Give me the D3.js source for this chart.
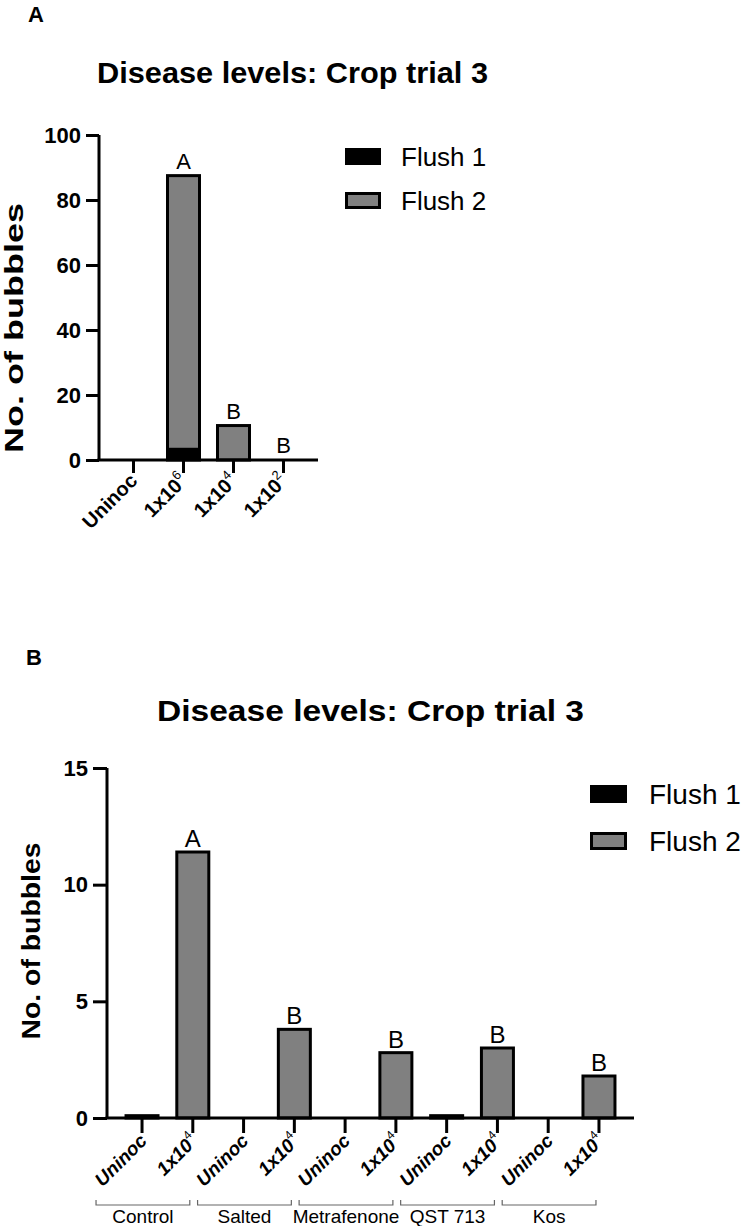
<!DOCTYPE html>
<html>
<head>
<meta charset="utf-8">
<script src="https://cdn.jsdelivr.net/npm/d3@7"></script>
<style>
  html, body { margin: 0; padding: 0; background: #fff; }
  svg { display: block; }
  text { font-family: "Liberation Sans", Arial, sans-serif; fill: #000; }
</style>
</head>
<body>
<svg id="chart" width="744" height="1226"></svg>
<script>
// ---------- Data ----------
const titleText = "Disease levels: Crop trial 3";
const seriesNames = ["Flush 1", "Flush 2"];
const seriesColors = ["#000000", "#808080"];

// Panel A
const catsA = ["Uninoc", "1x10^6", "1x10^4", "1x10^2"];
const flush1A = [0, 3.3, 0, 0];
const flush2A = [0, 84.2, 10.6, 0];
const lettersA = ["", "A", "B", "B"];
const ticksA = [0, 20, 40, 60, 80, 100];

// Panel B
const catsB = ["Uninoc", "1x10^4", "Uninoc", "1x10^4", "Uninoc", "1x10^4", "Uninoc", "1x10^4", "Uninoc", "1x10^4"];
const groupsB = ["Control", "Salted", "Metrafenone", "QST 713", "Kos"];
const flush1B = [0, 0, 0, 0, 0, 0, 0, 0, 0, 0];
const flush2B = [0.1, 11.4, 0, 3.8, 0, 2.8, 0.1, 3.0, 0, 1.8];
const lettersB = ["", "A", "", "B", "", "B", "", "B", "", "B"];
const ticksB = [0, 5, 10, 15];

// ---------- Drawing ----------
const svg = d3.select("#chart");
const FONT = '"Liberation Sans", Arial, sans-serif';

function labelWithSup(textSel, label, opts) {
  const parts = label.split("^");
  textSel.text(null);
  textSel.append("tspan").text(parts[0]);
  if (parts.length > 1) {
    textSel.append("tspan")
      .attr("font-size", opts.supSize)
      .attr("font-weight", "normal")
      .attr("font-style", "normal")
      .attr("dy", -opts.supShift)
      .text(parts[1]);
  }
}

function panel(cfg) {
  const g = svg.append("g");
  const idx = cfg.cats.map((d, i) => i);
  const x = d3.scaleBand().domain(idx).range(cfg.xRange).paddingInner(0).paddingOuter(cfg.padOuter);
  const y = d3.scaleLinear().domain([0, cfg.yMax]).range([cfg.y0, cfg.yTop]);

  // panel letter
  g.append("text").attr("x", cfg.panelLabelPos[0]).attr("y", cfg.panelLabelPos[1])
    .attr("font-size", 22).attr("font-weight", "bold").text(cfg.panelLabel);

  // title
  g.append("text").attr("x", cfg.titlePos[0]).attr("y", cfg.titlePos[1])
    .attr("font-size", cfg.titleSize).attr("font-weight", "bold")
    .attr("textLength", cfg.titleLen).attr("lengthAdjust", "spacingAndGlyphs")
    .text(titleText);

  // y label
  g.append("text")
    .attr("transform", `translate(${cfg.yLabelPos[0]},${cfg.yLabelPos[1]}) rotate(-90)`)
    .attr("text-anchor", "middle").attr("font-size", 26).attr("font-weight", "bold")
    .attr("textLength", cfg.yLabelLen).attr("lengthAdjust", "spacingAndGlyphs")
    .text("No. of bubbles");

  // bars (stacked)
  const bw = cfg.barWidth;
  const stacks = cfg.cats.map((c, i) => ({ i, f1: cfg.f1[i], f2: cfg.f2[i] }));
  const segs = [];
  stacks.forEach(s => {
    if (s.f1 > 0) segs.push({ i: s.i, lo: 0, hi: s.f1, k: 0 });
    if (s.f2 > 0) segs.push({ i: s.i, lo: s.f1, hi: s.f1 + s.f2, k: 1 });
  });
  g.selectAll("rect.bar").data(segs).join("rect")
    .attr("class", "bar")
    .attr("x", d => x(d.i) + x.bandwidth() / 2 - bw / 2)
    .attr("width", bw)
    .attr("y", d => y(d.hi))
    .attr("height", d => y(d.lo) - y(d.hi))
    .attr("fill", d => seriesColors[d.k])
    .attr("stroke", "#000").attr("stroke-width", 3);

  // significance letters
  g.selectAll("text.sig").data(stacks.filter(s => cfg.letters[s.i])).join("text")
    .attr("class", "sig")
    .attr("x", d => x(d.i) + x.bandwidth() / 2)
    .attr("y", d => y(d.f1 + d.f2) - cfg.letterGap)
    .attr("text-anchor", "middle").attr("font-size", cfg.letterSize)
    .text(d => cfg.letters[d.i]);

  // y axis
  const yAxis = g.append("g").attr("transform", `translate(${cfg.xRange[0]},0)`)
    .call(d3.axisLeft(y).tickValues(cfg.ticks).tickSize(cfg.yTickSize).tickPadding(5).tickFormat(d3.format("d")));
  yAxis.select(".domain").attr("d", `M0,${cfg.yTop}V${cfg.y0}`);
  yAxis.selectAll("path, line").attr("stroke", "#000").attr("stroke-width", 3);
  yAxis.selectAll("text").attr("font-size", cfg.yTickFont).attr("font-weight", "bold")
    .attr("font-family", FONT).attr("fill", "#000");

  // x axis
  const xAxis = g.append("g").attr("transform", `translate(0,${cfg.y0})`)
    .call(d3.axisBottom(x).tickSize(cfg.xTickSize).tickFormat(""));
  xAxis.select(".domain").attr("d", `M${cfg.xRange[0] - 1.5},0H${cfg.xRange[1]}`);
  xAxis.selectAll("path, line").attr("stroke", "#000").attr("stroke-width", 3);

  // rotated x labels
  g.selectAll("text.xl").data(idx).join("text")
    .attr("class", "xl")
    .attr("text-anchor", "end")
    .attr("font-size", cfg.xLabelSize).attr("font-weight", "bold")
    .attr("font-style", cfg.xItalic ? "italic" : "normal")
    .attr("transform", d => `translate(${x(d) + x.bandwidth() / 2 + cfg.xLabelDx},${cfg.y0 + cfg.xLabelDy}) rotate(-45)`)
    .each(function (d) { labelWithSup(d3.select(this), cfg.cats[d], { supSize: cfg.supSize, supShift: cfg.supShift }); });

  // legend
  seriesNames.forEach((name, k) => {
    const ly = cfg.legendY[k];
    if (k === 0) {
      g.append("rect").attr("x", cfg.legendX).attr("y", ly).attr("width", cfg.legendW).attr("height", cfg.legendH)
        .attr("fill", seriesColors[k]);
    } else {
      g.append("rect").attr("x", cfg.legendX + 1.5).attr("y", ly + 1.5).attr("width", cfg.legendW - 3).attr("height", cfg.legendH - 3)
        .attr("fill", seriesColors[k]).attr("stroke", "#000").attr("stroke-width", 3);
    }
    g.append("text").attr("x", cfg.legendTextX).attr("y", ly + cfg.legendH + 1)
      .attr("font-size", cfg.legendFont).text(name);
  });

  return { g, x, y };
}

// Panel A
panel({
  panelLabel: "A", panelLabelPos: [28, 22],
  titlePos: [97, 83], titleSize: 30, titleLen: 391,
  yLabelPos: [23, 328], yLabelLen: 250,
  cats: catsA, f1: flush1A, f2: flush2A, letters: lettersA, ticks: ticksA,
  xRange: [99, 318], padOuter: 0.19, y0: 460, yTop: 135, yMax: 100,
  barWidth: 32, letterGap: 7, letterSize: 22,
  yTickSize: 13, xTickSize: 13, yTickFont: 22,
  xLabelSize: 20, xItalic: false, xLabelDx: 5, xLabelDy: 22, supSize: 13, supShift: 9,
  legendX: 345, legendY: [148, 192], legendW: 36, legendH: 17, legendTextX: 401, legendFont: 26
});

// Panel B
const pb = panel({
  panelLabel: "B", panelLabelPos: [26, 665],
  titlePos: [157, 721], titleSize: 30, titleLen: 427,
  yLabelPos: [40, 941], yLabelLen: 197,
  cats: catsB, f1: flush1B, f2: flush2B, letters: lettersB, ticks: ticksB,
  xRange: [107, 634], padOuter: 0.19, y0: 1118, yTop: 768, yMax: 15,
  barWidth: 32, letterGap: 5, letterSize: 24,
  yTickSize: 14, xTickSize: 15, yTickFont: 22,
  xLabelSize: 19, xItalic: true, xLabelDx: 6, xLabelDy: 24, supSize: 12, supShift: 9,
  legendX: 590, legendY: [785, 832], legendW: 37, legendH: 18, legendTextX: 649, legendFont: 28
});

// group brackets for panel B
const gb = pb.g.append("g");
groupsB.forEach((name, gi) => {
  const c1 = pb.x(gi * 2) + pb.x.bandwidth() / 2;
  const c2 = pb.x(gi * 2 + 1) + pb.x.bandwidth() / 2;
  const x1 = c1 - 46, x2 = c2 - 3;
  gb.append("path")
    .attr("d", `M${x1},1200V1205H${x2}V1200`)
    .attr("fill", "none").attr("stroke", "#666").attr("stroke-width", 1.2);
  gb.append("text").attr("x", (x1 + x2) / 2).attr("y", 1223)
    .attr("text-anchor", "middle").attr("font-size", 19).text(name);
});
</script>
</body>
</html>
